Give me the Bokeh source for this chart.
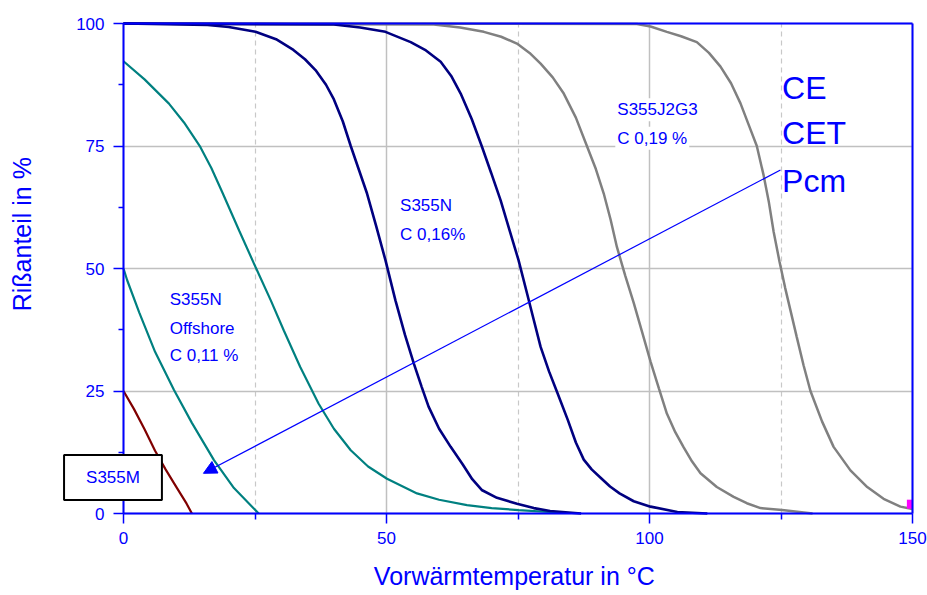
import math
from bokeh.plotting import figure
from bokeh.models import (Range1d, FixedTicker, Label, Arrow, NormalHead, LinearAxis, Grid)
from bokeh.embed import file_html
from bokeh.resources import INLINE

# ---------------- data ----------------
x_ticks = [0, 50, 100, 150]
x_minor = [25, 75, 125]
y_ticks = [0, 25, 50, 75, 100]
y_minor = [12.5, 37.5, 62.5, 87.5]

# S355M
m_x = [0, 2, 4, 6, 8, 10, 12, 13]
m_y = [25, 21.3, 17.2, 12.8, 9, 5.5, 2, 0]

# S355N Offshore (lower curve)
off_lo_x = [0, 0.7, 3, 6, 9.6, 13, 17.2, 21, 25.7]
off_lo_y = [50, 47.6, 41, 33, 25.2, 18.5, 10.9, 5.2, 0]

# S355N Offshore (upper curve)
off_hi_x = [0, 4, 8.6, 11.5, 14.6, 16.7, 18.8, 22, 25.1, 28, 30.5, 33.6, 37.1, 40, 43.2,
            46.5, 50.1, 55.8, 60, 65.3, 70, 75.1, 84]
off_hi_y = [92.3, 88.6, 83.7, 79.8, 74.8, 70.5, 65.5, 57.7, 50.3, 43.5, 37.3, 29.9, 22.4, 17.3,
            12.9, 9.6, 7.1, 4.1, 2.8, 1.7, 1.1, 0.7, 0.1]

# S355N C 0,16 % (left curve)
n_lo_x = [0, 16, 20, 25.1, 29, 32.3, 34.5, 36.5, 38.5, 40, 41.7, 43.2, 44.8, 46.3, 48,
          49.8, 51.7, 53.5, 55.2, 56.7, 58, 60, 62.2, 64.5, 66.3, 68.1, 71, 74.8, 78, 81.1, 87]
n_lo_y = [100, 99.7, 99.3, 98.3, 96.8, 94.6, 92.7, 90.5, 87.5, 84.5, 80, 75, 70, 65.3, 58.8,
          51.7, 43.5, 36.5, 30.6, 25.8, 21.8, 17.3, 13.6, 10, 7, 4.8, 3.2, 2.0, 1.1, 0.5, 0]

# S355N C 0,16 % (right curve)
n_hi_x = [0, 40, 45, 49.8, 54.6, 57.5, 60.3, 62.3, 64.1, 66.2, 68.1, 69.9, 71.7, 73.4, 75.1,
          76.7, 78, 79.3, 80.9, 82.5, 84.5, 86, 87.5, 89, 90.7, 92.5, 94.3, 97, 100.2, 105.3, 111]
n_hi_y = [100, 99.8, 99.2, 98.3, 96.2, 94.5, 92.2, 89.3, 85.7, 80.5, 75, 69.5, 63.9, 57.8, 51.7,
          45, 39.5, 34, 29, 24.6, 19, 14.5, 11, 9, 7.3, 5.5, 4.1, 2.5, 1.4, 0.3, 0]

# S355J2G3 C 0,19 % (left curve)
j_lo_x = [0, 59, 64, 68.5, 71.8, 74.8, 77.2, 79.3, 81.6, 83.7, 86, 88.1, 89.8, 91.3, 92.6,
          93.8, 95.4, 97, 98.6, 100.2, 101.8, 103.3, 104.9, 106.5, 108.1, 109.7, 112.8, 116,
          118.5, 121.1, 125.2, 131]
j_lo_y = [100, 99.8, 99.2, 98.3, 97.3, 95.9, 94, 91.8, 89, 85.7, 80.8, 75, 70.3, 65.3, 60,
          54.4, 48.5, 43, 37, 31, 25.5, 20.4, 16.6, 13.5, 10.6, 8.2, 5.4, 3.4,
          2.1, 1.1, 0.7, 0]

# S355J2G3 C 0,19 % (right curve)
j_hi_x = [0, 97.6, 100.2, 103.3, 106, 109, 111.3, 113.5, 115.5, 117.3, 118.9, 120.4, 121.7,
          122.7, 123.6, 124.7, 125.8, 126.9, 128, 129.3, 130.6, 132.8, 135, 138.2, 141.4,
          144.5, 147.7, 150]
j_hi_y = [100, 99.9, 99.4, 98.3, 97.4, 96.2, 94, 91.2, 87.8, 83.7, 79.2, 75, 69,
          63.5, 57.5, 51.5, 46, 41, 36, 30.2, 25, 18.8, 13.6, 8.8, 5.4,
          3, 1.4, 0.9]

# small marker at right edge
marker_x = [149.5]
marker_y = [1.9]

# arrow (from Pcm towards lower left)
arrow_start = (124.9, 70.1)
arrow_end = (15.2, 8.2)

X_MIN, X_MAX = 0, 150
Y_MIN, Y_MAX = 0, 100

BLUE = "#0000FF"
FONT = "Liberation Sans"

# The plot box (0..150 x 0..100) sits inside a larger frame so that the
# axis titles and the boxed "S355M" label can be drawn around it.
W, H = 927, 595
BOX_L, BOX_R, BOX_T, BOX_B = 123, 912, 23, 513
sx = (BOX_R - BOX_L) / (X_MAX - X_MIN)
sy = (BOX_B - BOX_T) / (Y_MAX - Y_MIN)
xr = Range1d(X_MIN - BOX_L / sx, X_MAX + (W - BOX_R) / sx)
yr = Range1d(Y_MIN - (H - BOX_B) / sy, Y_MAX + BOX_T / sy)

p = figure(width=W, height=H, x_range=xr, y_range=yr,
           output_backend="svg", toolbar_location=None, min_border=0,
           x_axis_location="below", y_axis_location="left")
p.background_fill_color = "white"
p.border_fill_color = "white"
p.outline_line_color = None

# axes fixed at the plot box
xa = p.xaxis[0]
ya = p.yaxis[0]
xa.fixed_location = Y_MIN
ya.fixed_location = X_MIN
xa.bounds = (X_MIN, X_MAX)
ya.bounds = (Y_MIN, Y_MAX)
for ax in (xa, ya):
    ax.axis_line_color = BLUE
    ax.axis_line_width = 2
    ax.major_tick_line_color = BLUE
    ax.minor_tick_line_color = BLUE
    ax.major_tick_line_width = 1.5
    ax.minor_tick_line_width = 1.5
    ax.major_tick_in = 0
    ax.minor_tick_in = 0
    ax.major_label_text_color = BLUE
    ax.major_label_text_font = FONT
    ax.major_label_text_font_size = "17px"
xa.ticker = FixedTicker(ticks=x_ticks, minor_ticks=x_minor)
ya.ticker = FixedTicker(ticks=y_ticks, minor_ticks=y_minor)
xa.major_tick_out = 10
xa.minor_tick_out = 6
xa.major_label_standoff = 8
ya.major_tick_out = 10
ya.minor_tick_out = 5
ya.major_label_standoff = 9

# top and right border lines of the plot box
top_ax = LinearAxis(fixed_location=Y_MAX, bounds=(X_MIN, X_MAX),
                    ticker=FixedTicker(ticks=[]), axis_line_color=BLUE,
                    axis_line_width=2, major_tick_out=0, minor_tick_out=0,
                    major_label_text_font_size="0px")
right_ax = LinearAxis(fixed_location=X_MAX, bounds=(Y_MIN, Y_MAX),
                      ticker=FixedTicker(ticks=[]), axis_line_color=BLUE,
                      axis_line_width=2, major_tick_out=0, minor_tick_out=0,
                      major_label_text_font_size="0px")
p.add_layout(top_ax, "above")
p.add_layout(right_ax, "right")

# grids limited to the plot box
p.xgrid.ticker = FixedTicker(ticks=x_ticks, minor_ticks=x_minor)
p.ygrid.ticker = FixedTicker(ticks=y_ticks)
p.xgrid.bounds = (X_MIN, X_MAX)
p.ygrid.bounds = (Y_MIN, Y_MAX)
p.xgrid.grid_line_color = "#c0c0c0"
p.xgrid.grid_line_width = 1.5
p.xgrid.minor_grid_line_color = "#c8c8c8"
p.xgrid.minor_grid_line_width = 1.2
p.xgrid.minor_grid_line_dash = "5 4"
p.ygrid.grid_line_color = "#c0c0c0"
p.ygrid.grid_line_width = 1.5
if "cross_bounds" in Grid.properties():
    p.xgrid.cross_bounds = (Y_MIN, Y_MAX)
    p.ygrid.cross_bounds = (X_MIN, X_MAX)
else:
    p.xgrid.visible = False
    p.ygrid.visible = False
    gx = [t for t in x_ticks if X_MIN < t < X_MAX]
    p.segment(gx, [Y_MIN] * len(gx), gx, [Y_MAX] * len(gx), line_color="#c0c0c0",
              line_width=1.5, level="underlay")
    p.segment(x_minor, [Y_MIN] * len(x_minor), x_minor, [Y_MAX] * len(x_minor),
              line_color="#c8c8c8", line_width=1.2, line_dash="5 4", level="underlay")
    gy = [t for t in y_ticks if Y_MIN < t < Y_MAX]
    p.segment([X_MIN] * len(gy), gy, [X_MAX] * len(gy), gy, line_color="#c0c0c0",
              line_width=1.5, level="underlay")

# curves
p.line(m_x, m_y, line_color="#800000", line_width=2.2)
p.line(off_lo_x, off_lo_y, line_color="#008080", line_width=2.2)
p.line(off_hi_x, off_hi_y, line_color="#008080", line_width=2.2)
p.line(j_hi_x, j_hi_y, line_color="#808080", line_width=2.5)
p.line(j_lo_x, j_lo_y, line_color="#808080", line_width=2.5)
p.line(n_hi_x, n_hi_y, line_color="#000080", line_width=2.6)
p.line(n_lo_x, n_lo_y, line_color="#000080", line_width=2.6)

p.rect(marker_x, marker_y, width=6, height=9, width_units="screen",
       height_units="screen", fill_color="#FF00FF", line_color=None)

# arrow
p.add_layout(Arrow(end=NormalHead(size=13, fill_color=BLUE, line_color=BLUE, line_width=1),
                   x_start=arrow_start[0], y_start=arrow_start[1],
                   x_end=arrow_end[0], y_end=arrow_end[1],
                   line_color=BLUE, line_width=1.2))

def lab(x, y, text, size="17px", bg=True, **kw):
    opts = dict(x=x, y=y, text=text, text_font=FONT, text_font_size=size,
                text_color=BLUE, text_baseline="alphabetic", text_align="left")
    if bg:
        opts.update(background_fill_color="white", padding=2)
    opts.update(kw)
    p.add_layout(Label(**opts))

# curve annotations
lab(8.4, 43.6, "S355N")
lab(8.4, 37.8, "Offshore")
lab(8.4, 32.2, "C 0,11 %")
lab(52.2, 62.9, "S355N")
lab(52.2, 57.0, "C 0,16%")
lab(93.5, 82.4, "S355J2G3")
lab(93.5, 76.6, "C 0,19 %")
lab(125.2, 86.9, "CE", size="32px", bg=False)
lab(125.2, 77.7, "CET", size="32px", bg=False)
lab(125.2, 67.8, "Pcm", size="32px", bg=False)

# boxed S355M label
p.add_layout(Label(x=-2.0, y=7.35, text="S355M", text_font=FONT, text_font_size="17px",
                   text_color=BLUE, text_align="center", text_baseline="middle",
                   background_fill_color="white", border_line_color="black",
                   border_line_width=2, padding=(22, 13)))

# axis titles
p.add_layout(Label(x=-19.3, y=57.0, text="Rißanteil in %", angle=math.pi / 2,
                   text_font=FONT, text_font_size="25px", text_color=BLUE,
                   text_align="center", text_baseline="alphabetic"))
p.add_layout(Label(x=74.3, y=-12.7, text="Vorwärmtemperatur in °C",
                   text_font=FONT, text_font_size="25px", text_color=BLUE,
                   text_align="center", text_baseline="alphabetic"))

open("out.html", "w").write(file_html(p, INLINE))
